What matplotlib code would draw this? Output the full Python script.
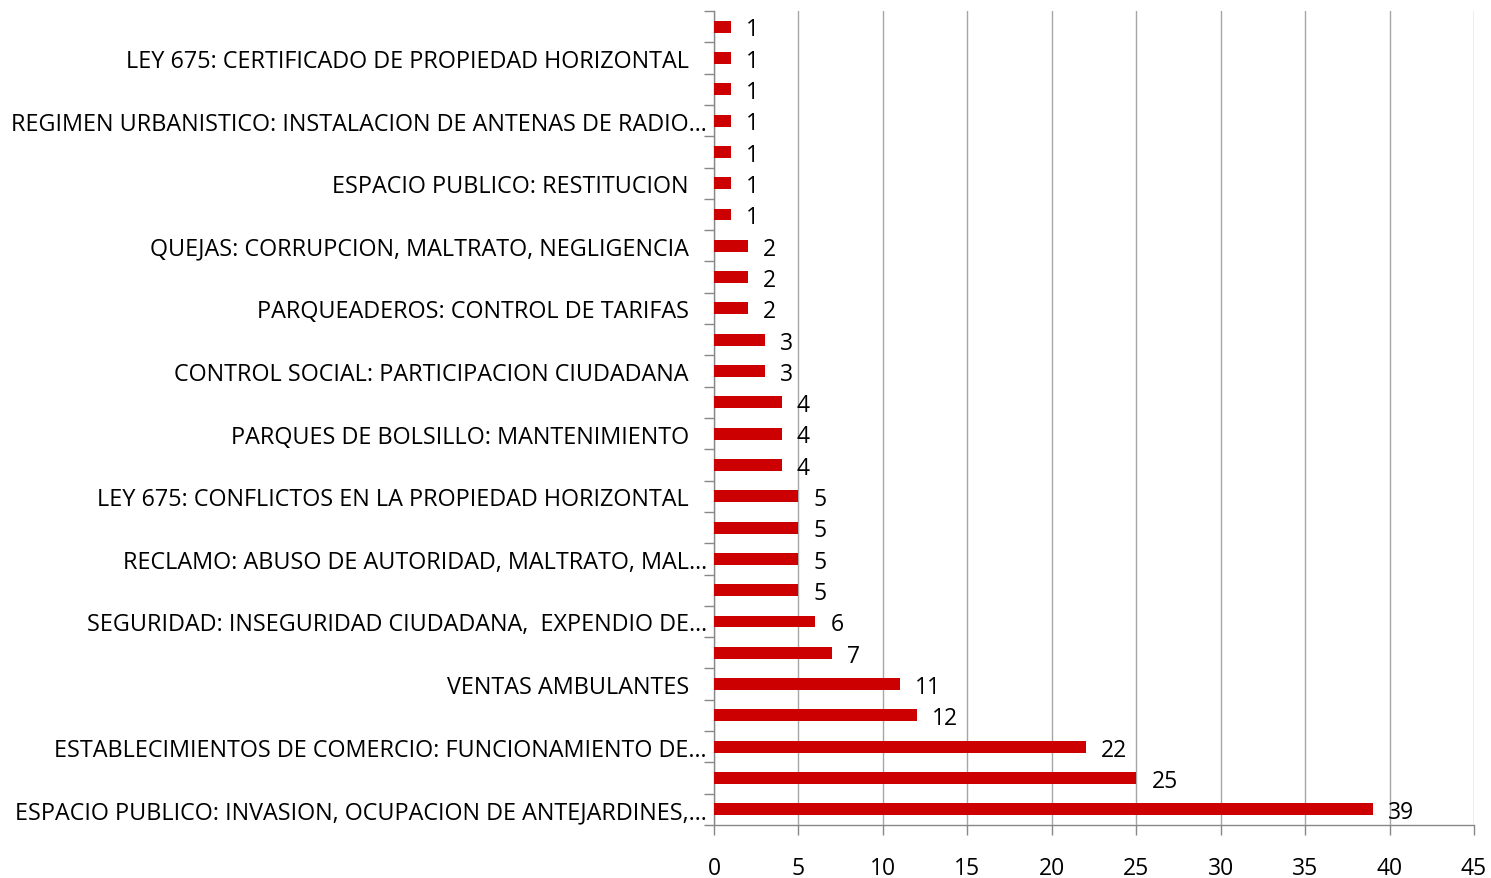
import matplotlib
matplotlib.use("Agg")
import matplotlib.pyplot as plt
from matplotlib.transforms import ScaledTranslation

categories = [
    "ESPACIO PUBLICO: INVASION, OCUPACION DE ANTEJARDINES,…", "",
    "ESTABLECIMIENTOS DE COMERCIO: FUNCIONAMIENTO DE…", "",
    "VENTAS AMBULANTES", "",
    "SEGURIDAD: INSEGURIDAD CIUDADANA,  EXPENDIO DE…", "",
    "RECLAMO: ABUSO DE AUTORIDAD, MALTRATO, MAL…", "",
    "LEY 675: CONFLICTOS EN LA PROPIEDAD HORIZONTAL", "",
    "PARQUES DE BOLSILLO: MANTENIMIENTO", "",
    "CONTROL SOCIAL: PARTICIPACION CIUDADANA", "",
    "PARQUEADEROS: CONTROL DE TARIFAS", "",
    "QUEJAS: CORRUPCION, MALTRATO, NEGLIGENCIA", "",
    "ESPACIO PUBLICO: RESTITUCION", "",
    "REGIMEN URBANISTICO: INSTALACION DE ANTENAS DE RADIO…", "",
    "LEY 675: CERTIFICADO DE PROPIEDAD HORIZONTAL", "",
]
values = [39, 25, 22, 12, 11, 7, 6, 5, 5, 5, 5, 4, 4, 4, 3, 3, 2, 2, 2, 1, 1, 1, 1, 1, 1, 1]
xticks = [0, 5, 10, 15, 20, 25, 30, 35, 40, 45]

plt.rcParams['font.family'] = ['Open Sans', 'DejaVu Sans']

fig = plt.figure(figsize=(14.91, 8.79), dpi=100)
ax = fig.add_axes([714/1491, 1-826/879, (1474-714)/1491, (826-12)/879])

y = list(range(len(values)))
ax.barh(y, values, height=0.38, color="#CC0000", zorder=3)
for yi, v in zip(y, values):
    ax.annotate(str(v), (v, yi), xytext=(11, -2), textcoords="offset points",
                ha="left", va="center", fontsize=16.5, color="black", zorder=4)

ax.set_xlim(0, 45)
ax.set_ylim(-0.5, len(values) - 0.5)
ax.set_xticks(xticks)
ax.set_xticklabels([str(t) for t in xticks], fontsize=16.5)
ax.set_yticks(y)
ax.set_yticklabels(categories, fontsize=16.8)
ax.set_yticks([i - 0.5 for i in range(len(values) + 1)], minor=True)
ax.tick_params(axis="y", which="major", length=0, pad=18)
ax.tick_params(axis="y", which="minor", length=7, color="#888888", width=1)
ax.tick_params(axis="x", which="major", length=7, color="#888888", width=1, pad=15)

ax.grid(axis="x", color="#A6A6A6", linewidth=1, zorder=0)
for s in ["top", "right"]:
    ax.spines[s].set_visible(False)
for s in ["left", "bottom"]:
    ax.spines[s].set_color("#888888")
    ax.spines[s].set_linewidth(1)

for lab in ax.get_yticklabels():
    if lab.get_text().endswith("…"):
        lab.set_transform(lab.get_transform() + ScaledTranslation(18/100, 0, fig.dpi_scale_trans))

fig.savefig("out.png", dpi=100)
